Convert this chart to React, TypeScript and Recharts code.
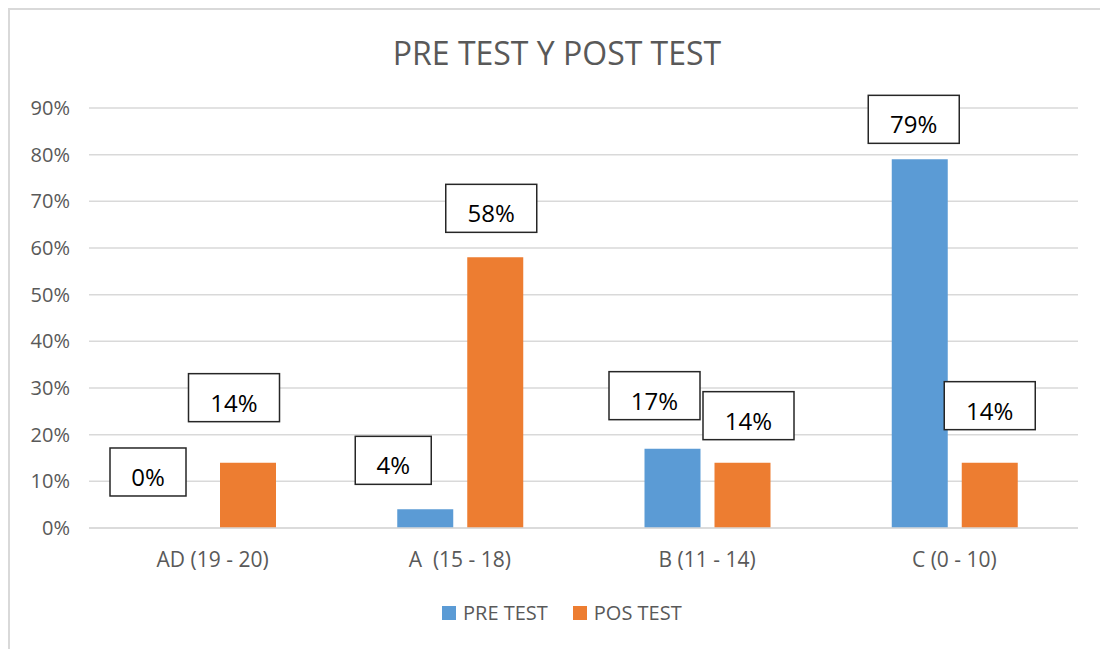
import React from 'react';
import { BarChart, Bar, XAxis, YAxis, CartesianGrid, LabelList } from 'recharts';

const categories = ['AD (19 - 20)', 'A\u00a0 (15 - 18)', 'B (11 - 14)', 'C (0 - 10)'];
const preTest = [0, 4, 17, 79];
const posTest = [14, 58, 14, 14];
const yTicks = [0, 10, 20, 30, 40, 50, 60, 70, 80, 90];
const seriesNames = ['PRE TEST', 'POS TEST'];

// label boxes were dragged by hand in the original, so each one has its own offset from the bar top
const preLabelOffsets = [[-30, -56], [-32, -49], [-18, -53], [-6, -40]];
const posLabelOffsets = [[-14, -65], [-4, -49], [6, -47], [0, -57]];

const BLUE = '#5B9BD5';
const ORANGE = '#ED7D31';
const TEXT = '#595959';
const GRID = '#D9D9D9';
const FONT = '"Open Sans", sans-serif';

const data = categories.map((name, i) => ({ name, pre: preTest[i], pos: posTest[i] }));

// the label value is the category name, so the right offset is found even if a bar is skipped
const makeBoxLabel = (values: number[], offsets: number[][]) => (props: any) => {
  const { x, y, width, value } = props;
  const idx = categories.indexOf(value);
  if (idx < 0) return null;
  const text = `${values[idx]}%`;
  const [dx, dy] = offsets[idx];
  const cx = Number(x) + Number(width) / 2 + dx;
  const cy = Number(y) + dy;
  const w = text.length <= 2 ? 76 : 91;
  const h = 48;
  return (
    <g>
      <rect x={cx - w / 2} y={cy - h / 2} width={w} height={h} fill="#fff" stroke="#262626" strokeWidth={1.5} />
      <text x={cx} y={cy + 14} textAnchor="middle" fontSize={24} fontFamily={FONT} fill="#000">
        {text}
      </text>
    </g>
  );
};

export default function App() {
  return (
    <div
      style={{
        position: 'relative',
        width: 1094,
        height: 640,
        border: `2px solid ${GRID}`,
        background: '#fff',
        fontFamily: FONT,
      }}
    >
      <div
        style={{
          position: 'absolute',
          top: 27,
          left: 0,
          width: '100%',
          textAlign: 'center',
          fontSize: 32,
          lineHeight: '32px',
          color: TEXT,
        }}
      >
        PRE TEST Y POST TEST
      </div>

      <BarChart
        width={1094}
        height={630}
        data={data}
        barSize={56}
        barGap={14}
        margin={{ top: 98, right: 26, bottom: 82, left: 19 }}
      >
        <CartesianGrid vertical={false} stroke={GRID} strokeWidth={1.5} />
        <XAxis
          dataKey="name"
          height={30}
          tickLine={false}
          axisLine={{ stroke: GRID, strokeWidth: 1.5 }}
          tickMargin={18}
          tick={{ fill: TEXT, fontSize: 21, fontFamily: FONT }}
        />
        <YAxis
          width={60}
          domain={[0, 90]}
          ticks={yTicks}
          interval={0}
          tickLine={false}
          axisLine={false}
          tickMargin={13}
          tickFormatter={(v: number) => `${v}%`}
          tick={{ fill: TEXT, fontSize: 20, fontFamily: FONT }}
        />
        <Bar dataKey="pre" name={seriesNames[0]} fill={BLUE} minPointSize={0.01} isAnimationActive={false}>
          <LabelList dataKey="name" content={makeBoxLabel(preTest, preLabelOffsets)} />
        </Bar>
        <Bar dataKey="pos" name={seriesNames[1]} fill={ORANGE} isAnimationActive={false}>
          <LabelList dataKey="name" content={makeBoxLabel(posTest, posLabelOffsets)} />
        </Bar>
      </BarChart>

      <div
        style={{
          position: 'absolute',
          top: 593,
          left: 432,
          height: 20,
          display: 'flex',
          alignItems: 'center',
          fontSize: 20,
          color: TEXT,
        }}
      >
        {seriesNames.map((n, i) => (
          <div key={n} style={{ display: 'flex', alignItems: 'center', marginRight: i === 0 ? 25 : 0 }}>
            <span style={{ width: 14, height: 14, background: i === 0 ? BLUE : ORANGE, marginRight: 7 }} />
            <span style={{ lineHeight: '20px' }}>{n}</span>
          </div>
        ))}
      </div>
    </div>
  );
}
